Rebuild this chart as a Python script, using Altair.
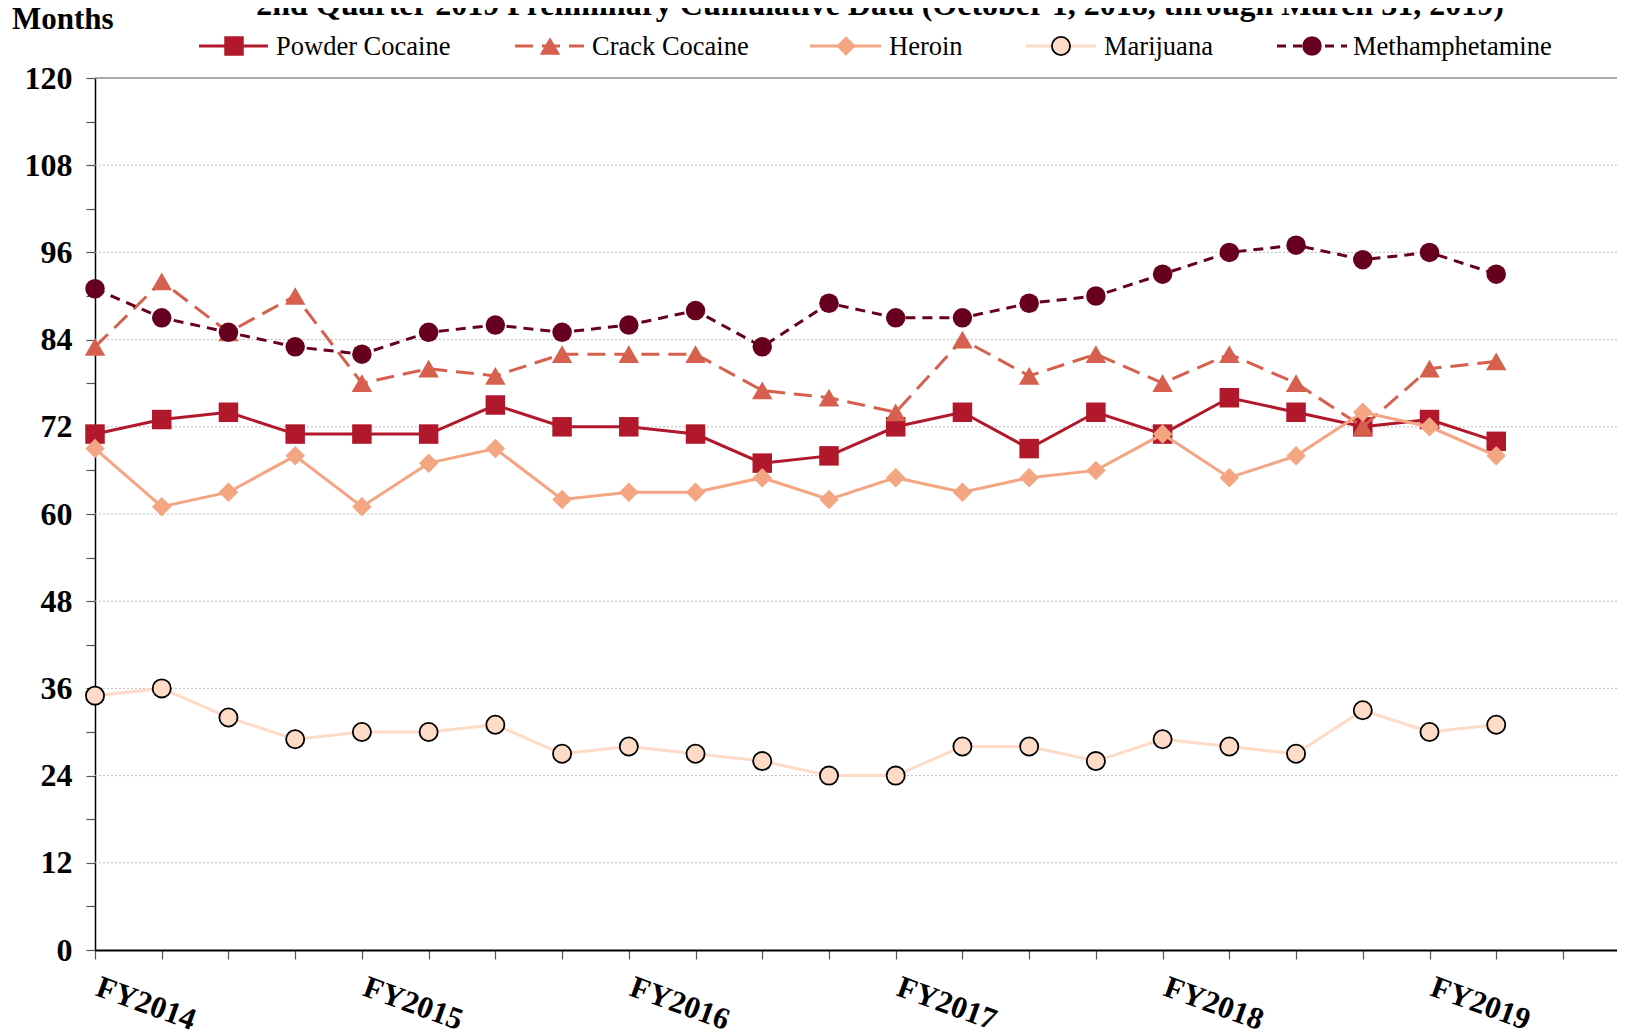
import altair as alt
import pandas as pd

# ---------------- data ----------------
fy_labels = ["FY2014", "", "", "", "FY2015", "", "", "", "FY2016", "", "", "",
             "FY2017", "", "", "", "FY2018", "", "", "", "FY2019", "", ""]
series_names = ["Powder Cocaine", "Crack Cocaine", "Heroin", "Marijuana", "Methamphetamine"]

powder = [71, 73, 74, 71, 71, 71, 75, 72, 72, 71, 67, 68, 72, 74, 69, 74, 71, 76, 74, 72, 73, 70]
crack = [83, 92, 85, 90, 78, 80, 79, 82, 82, 82, 77, 76, 74, 84, 79, 82, 78, 82, 78, 72, 80, 81]
heroin = [69, 61, 63, 68, 61, 67, 69, 62, 63, 63, 65, 62, 65, 63, 65, 66, 71, 65, 68, 74, 72, 68]
marijuana = [35, 36, 32, 29, 30, 30, 31, 27, 28, 27, 26, 24, 24, 28, 28, 26, 29, 28, 27, 33, 30, 31]
meth = [91, 87, 85, 83, 82, 85, 86, 85, 86, 88, 83, 89, 87, 87, 89, 90, 93, 96, 97, 95, 96, 93]

grid_values = [12, 24, 36, 48, 60, 72, 84, 96, 108]
title_text = "2nd Quarter 2019 Preliminary Cumulative Data (October 1, 2018, through March 31, 2019)"
y_title = "Months"

all_values = [powder, crack, heroin, marijuana, meth]
rows = []
for name, vals in zip(series_names, all_values):
    for i, v in enumerate(vals):
        rows.append({"series": name, "q": i, "v": v})
df = pd.DataFrame(rows)

# ---------------- styles ----------------
FONT = "Liberation Serif"
styles = {
    "Powder Cocaine": dict(color="#B2182B", dash=None, ldash=None, shape="square", fill="#B2182B", stroke="#B2182B", size=380, sw=0),
    "Crack Cocaine": dict(color="#D6604D", dash=[18, 9], ldash=[18, 9], shape="triangle-up", fill="#D6604D", stroke="#D6604D", size=420, sw=0),
    "Heroin": dict(color="#F4A582", dash=None, ldash=None, shape="diamond", fill="#F4A582", stroke="#F4A582", size=380, sw=0),
    "Marijuana": dict(color="#FDDBC7", dash=None, ldash=None, shape="circle", fill="#FDDBC7", stroke="#000000", size=330, sw=1.8),
    "Methamphetamine": dict(color="#67001F", dash=[10, 7], ldash=[9, 7], shape="circle", fill="#67001F", stroke="#67001F", size=380, sw=0),
}

W, H = 1522, 872
XMAX = 22.81

label_expr = "[" + ",".join("'%s'" % s for s in fy_labels) + "][datum.value]"

x_axis = alt.Axis(
    values=list(range(len(fy_labels))), labelExpr=label_expr, labelAngle=20,
    labelAlign="left", labelBaseline="top", labelFont=FONT, labelFontSize=31,
    labelFontWeight="bold", labelColor="black", labelPadding=13, labelOffset=7,
    labelFlush=False, labelOverlap=False, labelBound=False,
    tickSize=9, tickColor="#555555", tickWidth=1.2,
    domainColor="black", domainWidth=2, grid=False, title=None,
)
y_axis = alt.Axis(
    values=list(range(0, 121, 6)), labelExpr="datum.value % 12 === 0 ? datum.label : ''",
    labelFont=FONT, labelFontSize=32, labelFontWeight="bold", labelColor="black",
    labelPadding=14, tickSize=9, tickColor="#555555", tickWidth=1.2,
    domainColor="black", domainWidth=1.5, grid=False, title=None,
)
x_scale = alt.Scale(domain=[0, XMAX], nice=False, zero=False)
y_scale = alt.Scale(domain=[0, 120], nice=False)


def xe(field):
    return alt.X(field, type="quantitative", scale=x_scale, axis=x_axis)


def ye(field):
    return alt.Y(field, type="quantitative", scale=y_scale, axis=y_axis)


layers = []

# grid lines
grid_df = pd.DataFrame({"g": grid_values})
layers.append(
    alt.Chart(grid_df).mark_rule(color="#bdbdbd", strokeWidth=1, strokeDash=[2, 2]).encode(y=ye("g"))
)
layers.append(
    alt.Chart(pd.DataFrame({"g": [120]})).mark_rule(color="#8c8c8c", strokeWidth=1.5).encode(y=ye("g"))
)

# series
for name in series_names:
    s = styles[name]
    sub = df[df["series"] == name]
    line_kw = dict(color=s["color"], strokeWidth=3, strokeCap="butt")
    if s["dash"]:
        line_kw["strokeDash"] = s["dash"]
    layers.append(alt.Chart(sub).mark_line(**line_kw).encode(x=xe("q"), y=ye("v")))
    layers.append(
        alt.Chart(sub).mark_point(
            shape=s["shape"], filled=True, fill=s["fill"], stroke=s["stroke"],
            strokeWidth=s["sw"], size=s["size"], opacity=1,
        ).encode(x=xe("q"), y=ye("v"))
    )

# manual legend (pixel layout of the legend box)
LEG_Y = -32
legend_layout = {
    "Powder Cocaine": (104, 173, 139, 181),
    "Crack Cocaine": (420, 489, 455, 497),
    "Heroin": (715, 786, 751, 794),
    "Marijuana": (931, 1001, 966, 1009),
    "Methamphetamine": (1182, 1252, 1217, 1258),
}
one = pd.DataFrame({"k": [0]})
for name in series_names:
    s = styles[name]
    x1, x2, xm, xt = legend_layout[name]
    rule_kw = dict(color=s["color"], strokeWidth=3, strokeCap="butt")
    if s["ldash"]:
        rule_kw["strokeDash"] = s["ldash"]
    layers.append(
        alt.Chart(one).mark_rule(**rule_kw).encode(
            x=alt.value(x1), x2=alt.value(x2), y=alt.value(LEG_Y)
        )
    )
    layers.append(
        alt.Chart(one).mark_point(
            shape=s["shape"], filled=True, fill=s["fill"], stroke=s["stroke"],
            strokeWidth=s["sw"], size=s["size"], opacity=1,
        ).encode(x=alt.value(xm), y=alt.value(LEG_Y))
    )
    layers.append(
        alt.Chart(one).mark_text(
            font=FONT, fontSize=26.5, color="black", align="left", baseline="middle", dy=1,
        ).encode(x=alt.value(xt), y=alt.value(LEG_Y), text=alt.value(name))
    )

# title (cut at the top like the reference) and y-axis title
layers.append(
    alt.Chart(one).mark_text(
        font=FONT, fontSize=32, fontWeight="bold", color="black", align="center", baseline="alphabetic",
    ).encode(x=alt.value(785), y=alt.value(-63), text=alt.value(title_text))
)
layers.append(
    alt.Chart(one).mark_text(
        font=FONT, fontSize=31, fontWeight="bold", color="black", align="left", baseline="alphabetic",
    ).encode(x=alt.value(-83), y=alt.value(-49), text=alt.value(y_title))
)

chart = alt.layer(*layers).properties(
    width=W, height=H,
    autosize=alt.AutoSizeParams(type="none"),
    padding={"left": 87, "top": 70, "right": 0, "bottom": 82},
    background="white",
).configure_view(stroke=None)

chart.save("out.html", embed_options={"renderer": "svg", "actions": False})
